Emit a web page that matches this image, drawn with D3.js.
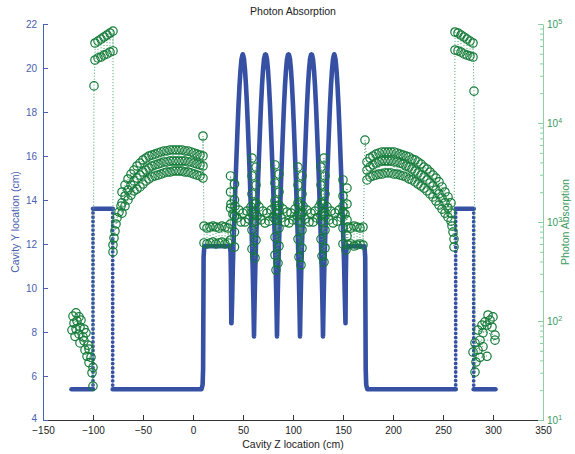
<!DOCTYPE html>
<html>
<head>
<meta charset="utf-8">
<script src="https://cdnjs.cloudflare.com/ajax/libs/d3/7.8.5/d3.min.js"></script>
<style>
  body { margin: 0; background: #fff; }
  text { font-family: "Liberation Sans", Arial, Helvetica, sans-serif; }
</style>
</head>
<body>
<div id="chart"></div>
<script>
// ---- tick labels ----
var zTicks = [-150, -100, -50, 0, 50, 100, 150, 200, 250, 300, 350];
var yTicks = [4, 6, 8, 10, 12, 14, 16, 18, 20, 22];
var absTicks = [10, 100, 1000, 10000, 100000];

// ---- cavity profile (z cm, y cm) ----
var cavityProfile = [
  [-121.5,5.4],[-100,5.4],[-100,13.6],[-80.3,13.6],[-80.3,5.4],[8.5,5.4],[9.6,5.6],[10.1,6.3],[10.6,11.4],[11.3,11.9],
  [37,11.9],[37.6,11.6],[38,10.5],[38.3,8.4],
  [38.5,8.4],[38.8,8.9],[39.2,9.6],[39.8,10.9],[40.5,12.0],[41.5,13.4],[42.5,14.8],[43.5,16.0],[44.5,17.2],[45.5,18.3],[46.5,19.2],[47.5,19.9],[48.5,20.4],[49.5,20.6],[49.75,20.62],
  [50,20.6],[51,20.4],[52,19.9],[53,19.2],[54,18.3],[55,17.2],[56,16.0],[57,14.8],[58,13.4],[59,12.0],[59.7,10.9],[60.3,9.6],[60.7,8.6],[61,7.8],
  [61.3,8.6],[61.7,9.6],[62.3,10.9],[63,12.0],[64,13.4],[65,14.8],[66,16.0],[67,17.2],[68,18.3],[69,19.2],[70,19.9],[71,20.4],[72,20.6],[72.5,20.62],
  [73,20.6],[74,20.4],[75,19.9],[76,19.2],[77,18.3],[78,17.2],[79,16.0],[80,14.8],[81,13.4],[82,12.0],[82.7,10.9],[83.3,9.6],[83.7,8.6],[84,7.8],
  [84.3,8.6],[84.7,9.6],[85.3,10.9],[86,12.0],[87,13.4],[88,14.8],[89,16.0],[90,17.2],[91,18.3],[92,19.2],[93,19.9],[94,20.4],[95,20.6],[95.5,20.62],
  [96,20.6],[97,20.4],[98,19.9],[99,19.2],[100,18.3],[101,17.2],[102,16.0],[103,14.8],[104,13.4],[105,12.0],[105.7,10.9],[106.3,9.6],[106.7,8.6],[107,7.8],
  [107.3,8.6],[107.7,9.6],[108.3,10.9],[109,12.0],[110,13.4],[111,14.8],[112,16.0],[113,17.2],[114,18.3],[115,19.2],[116,19.9],[117,20.4],[118,20.6],[118.5,20.62],
  [119,20.6],[120,20.4],[121,19.9],[122,19.2],[123,18.3],[124,17.2],[125,16.0],[126,14.8],[127,13.4],[128,12.0],[128.7,10.9],[129.3,9.6],[129.7,8.6],[130,7.8],
  [130.3,8.6],[130.7,9.6],[131.3,10.9],[132,12.0],[133,13.4],[134,14.8],[135,16.0],[136,17.2],[137,18.3],[138,19.2],[139,19.9],[140,20.4],[141,20.6],[141.25,20.62],
  [141.5,20.6],[142.5,20.4],[143.5,19.9],[144.5,19.2],[145.5,18.3],[146.5,17.2],[147.5,16.0],[148.5,14.8],[149.5,13.4],[150.5,12.0],[151.2,10.9],[151.8,9.6],[152.2,8.9],[152.5,8.4],
  [152.8,10.5],[153.2,11.6],[153.8,11.9],[171.5,11.9],[172.2,11.4],[172.7,6.3],[173.2,5.6],[174.3,5.4],
  [262.7,5.4],[262.7,13.6],[280.7,13.6],[280.7,5.4],[302.5,5.4]
];

// ---- photon absorption (z cm, counts) ----
var lowLeftZ   = [-120,-117,-114,-119,-116,-112,-121,-117,-113,-109,-118,-114,-110,-107,-113,-109,-105,-108,-104,-106,-102,-104,-100,-101,-100];
var lowLeftAbs = [112,121,110,95,100,102,81,83,87,83,70,74,69,76,60,63,57,51,52,44,43,38,34,30,22];

var spikeZ   = [-99, 10, 172, 281];
var spikeAbs = [23700, 7390, 6730, 21000];

var topLeftZ     = [-98,-95,-92,-89,-86,-83,-80];
var topLeftUpper = [64300,67300,70500,73900,77400,81100,84900];
var topLeftLower = [43300,45400,46400,48600,49800,52100,53400];

var leftTrailZ   = [-80,-80,-79,-78,-77,-76,-74,-72];
var leftTrailAbs = [498,586,689,811,955,1100,1260,1450];

var leftArcZ   = [-71,-68,-65,-62,-59,-56,-53,-50,-47,-44,-41,-38,-35,-32,-29,-26,-23,-20,-17,-14,-11,-8,-5,-2,1,4,7,10];
var leftArcTop = [2010,2360,2720,3050,3350,3680,3940,4230,4430,4640,4750,4860,4980,5100,5220,5220,5340,5340,5340,5340,5340,5220,5220,5100,4980,4860,4750,4640];
var leftArcMid = [1560,1830,2100,2360,2600,2780,2980,3200,3350,3510,3680,3770,3850,3940,4040,4040,4130,4130,4130,4130,4130,4130,4040,4040,3940,3850,3770,3680];
var leftArcLow = [1230,1450,1670,1870,2060,2150,2260,2420,2600,2720,2850,2920,2980,3050,3130,3200,3200,3270,3270,3270,3270,3200,3200,3130,3050,2980,2920,2780];

var flatLeftZ     = [11,14,17,20,23,26,29,32,35];
var flatLeftUpper = [911,870,890,911,890,870,911,890,870];
var flatLeftLower = [614,600,614,628,600,614,628,600,614];

var cellTopZ   = [38,42,46,50,54,58,62,66,70,74,78,82,86,90,94,98,102,106,110,114,118,122,126,130,134,138,142,146,150];
var cellTopAbs = [1520,1450,1320,1230,1290,1420,1520,1420,1290,1230,1320,1450,1485,1350,1260,1230,1350,1485,1450,1320,1230,1290,1420,1520,1420,1290,1230,1320,1450];
var cellLowZ   = [40,44,48,52,56,60,64,68,72,76,80,84,88,92,96,100,104,108,112,116,120,124,128,132,136,140,144,148,152];
var cellLowAbs = [1205,1100,1000,1000,1070,1180,1150,1050,977,1020,1120,1205,1100,1000,977,1050,1150,1180,1070,1000,1000,1100,1180,1150,1050,977,1020,1120,1205];

var irisStackZ = [
  37.5,41.5,37.5,41.5,37.5,41.5,37.5,41.5,37.5,41.5,
  59,63,59,63,59,63,59,63,59,63,59,62,
  82,86,82,86,82,86,82,86,82,86,82,85,83,
  105,109,105,109,105,109,105,109,105,109,106,108,
  131,128,132,128,132,128,132,128,132,128,132,129,131,
  150,154,150,154,150,154,150,154,150,153
];
var irisStackAbs = [
  2920,2420,2010,1670,1385,1150,955,792,658,559,
  4430,3590,2920,2360,1920,1560,1260,1020,830,658,534,433,
  3770,3050,2480,2010,1630,1320,1070,870,705,572,464,385,327,
  3590,2920,2360,1920,1560,1260,1020,830,673,546,443,368,
  4430,3590,2920,2360,1920,1560,1260,1020,830,673,546,453,394,
  2660,2200,1830,1520,1260,1050,870,722,600,522
];

var flatRightZ     = [155,158,161,164,167,170];
var flatRightUpper = [890,870,911,890,870,890];
var flatRightLower = [586,600,572,586,600,586];

var rightArcZ   = [174,177,180,183,186,189,192,195,198,201,204,207,210,213,216,219,222,225,228,231,234,237,240,243,246,249,252,255,258];
var rightArcTop = [4040,4430,4640,4860,4980,5100,5100,5100,5100,5100,4980,4860,4750,4640,4540,4330,4230,4040,3850,3590,3430,3200,2980,2780,2540,2260,2010,1790,1560];
var rightArcMid = [3350,3590,3770,3940,4040,4130,4130,4130,4130,4040,4040,3940,3850,3680,3590,3430,3270,3130,2980,2850,2660,2480,2310,2100,1920,1750,1560,1385,1230];
var rightArcLow = [2660,2850,2920,2980,3050,3050,3130,3130,3130,3050,3050,2980,2920,2850,2720,2660,2540,2420,2310,2200,2060,1920,1790,1630,1485,1350,1230,1120,1020];

var rightTrailZ   = [259,260,261,261];
var rightTrailAbs = [911,792,673,559];

var topRightZ     = [262,265,268,271,274,277,280];
var topRightUpper = [83000,81100,77400,73900,70500,67300,64300];
var topRightLower = [54600,53400,52100,49800,48600,47500,46400];

var lowRightZ   = [282,283,280,287,294,285,282,290,287,302,302,285,290,299,289,294,292,297,300,295];
var lowRightAbs = [30.5,38.5,48.6,43,44,51,60,55,64,64,72,81,76,87,91,91,98,102,110,115];

// ---- layout ----
var blue = "#3651a3", blueAxis = "#4a60b0";
var green = "#137a38", greenAxis = "#8ccfa4", greenText = "#3a9a5e";

var margin = {top: 24, right: 32, bottom: 34, left: 43};
var width = 575 - margin.left - margin.right;
var height = 454 - margin.top - margin.bottom;

var svg = d3.select("#chart").append("svg")
    .attr("width", 575)
    .attr("height", 454);

var g = svg.append("g")
    .attr("transform", "translate(" + margin.left + "," + margin.top + ")");

var x = d3.scaleLinear().domain([-150, 350]).range([0, width]);
var y = d3.scaleLinear().domain([4, 22]).range([height, 0]);
var y2 = d3.scaleLog().domain([10, 100000]).range([height, 0]);

// ---- axes ----
var xAxis = g.append("g")
    .attr("transform", "translate(0," + height + ")")
    .attr("color", "#333")
    .call(d3.axisBottom(x).tickValues(zTicks).tickSizeInner(-5).tickSizeOuter(0).tickPadding(7));

var yAxis = g.append("g")
    .attr("color", blueAxis)
    .call(d3.axisLeft(y).tickValues(yTicks).tickSizeInner(-5).tickSizeOuter(0).tickPadding(6));

// lift the bottom "4" a little so it clears "-150"
yAxis.selectAll(".tick text").attr("dy", function (d) { return d === 4 ? "0.1em" : "0.32em"; });

var minorTicks = y2.ticks().filter(function (d) { return absTicks.indexOf(d) < 0; });
g.append("g")
    .attr("transform", "translate(" + width + ",0)")
    .attr("color", greenAxis)
    .call(d3.axisRight(y2).tickValues(minorTicks).tickSizeInner(-3).tickSizeOuter(0).tickFormat(""))
    .select(".domain").remove();

var yAxis2 = g.append("g")
    .attr("transform", "translate(" + width + ",0)")
    .attr("color", greenAxis)
    .call(d3.axisRight(y2).tickValues(absTicks).tickSizeInner(-5).tickSizeOuter(0).tickFormat(""));

yAxis2.selectAll(".tick").each(function (d) {
    var t = d3.select(this).append("text")
        .attr("x", 4)
        .attr("dy", "0.36em")
        .attr("fill", greenText)
        .attr("text-anchor", "start");
    t.append("tspan").text("10");
    t.append("tspan").attr("dy", "-0.55em").attr("font-size", "7px").text(Math.round(Math.log10(d)));
});

svg.selectAll(".tick text")
    .style("font-family", '"Liberation Sans", Arial, sans-serif')
    .style("font-size", "10px");
xAxis.selectAll(".tick text").attr("fill", "#222");

// ---- cavity profile (blue) ----
var line = d3.line()
    .x(function (d) { return x(d[0]); })
    .y(function (d) { return y(d[1]); });

// tall exactly-vertical steps show as separate dots, everything else is dense
var runs = [], walls = [], run = [cavityProfile[0]];
for (var i = 1; i < cavityProfile.length; i++) {
    var a = cavityProfile[i - 1], b = cavityProfile[i];
    if (a[0] === b[0] && Math.abs(b[1] - a[1]) > 2) {
        if (run.length > 1) runs.push(run);
        walls.push([a, b]);
        run = [b];
    } else {
        run.push(b);
    }
}
if (run.length > 1) runs.push(run);

g.selectAll(".profile")
    .data(runs)
    .enter().append("path")
    .attr("class", "profile")
    .attr("d", line)
    .attr("fill", "none")
    .attr("stroke", blue)
    .attr("stroke-width", 4.6)
    .attr("stroke-linejoin", "round")
    .attr("stroke-linecap", "round");

g.selectAll(".wall")
    .data(walls)
    .enter().append("path")
    .attr("class", "wall")
    .attr("d", line)
    .attr("fill", "none")
    .attr("stroke", blue)
    .attr("stroke-width", 3.8)
    .attr("stroke-linecap", "round")
    .attr("stroke-dasharray", "0 4.3");

// ---- photon absorption (green), in plotting order ----
var seq = [];
function add(z, v) { seq.push([z, v]); }
function addAll(zs, vs) { zs.forEach(function (z, i) { add(z, vs[i]); }); }
function zigzag(zs, bands) {
    zs.forEach(function (z, i) {
        var order = i % 2 === 0 ? bands : bands.slice().reverse();
        order.forEach(function (band) { add(z, band[i]); });
    });
}

addAll(lowLeftZ, lowLeftAbs);
add(spikeZ[0], spikeAbs[0]);
zigzag(topLeftZ, [topLeftLower, topLeftUpper]);
addAll(leftTrailZ, leftTrailAbs);
zigzag(leftArcZ, [leftArcLow, leftArcMid, leftArcTop]);
add(spikeZ[1], spikeAbs[1]);
zigzag(flatLeftZ, [flatLeftUpper, flatLeftLower]);

var centre = [];
cellTopZ.forEach(function (z, i) { centre.push([z, cellTopAbs[i]]); });
cellLowZ.forEach(function (z, i) { centre.push([z, cellLowAbs[i]]); });
irisStackZ.forEach(function (z, i) { centre.push([z, irisStackAbs[i]]); });
centre.sort(function (p, q) { return p[0] - q[0]; });
centre.forEach(function (p) { add(p[0], p[1]); });

zigzag(flatRightZ, [flatRightLower, flatRightUpper]);
add(spikeZ[2], spikeAbs[2]);
zigzag(rightArcZ, [rightArcTop, rightArcMid, rightArcLow]);
addAll(rightTrailZ, rightTrailAbs);
zigzag(topRightZ, [topRightLower, topRightUpper]);
add(spikeZ[3], spikeAbs[3]);
addAll(lowRightZ, lowRightAbs);

var absLine = d3.line()
    .x(function (d) { return x(d[0]); })
    .y(function (d) { return y2(d[1]); });

g.append("path")
    .datum(seq)
    .attr("d", absLine)
    .attr("fill", "none")
    .attr("stroke", "#3f9f66")
    .attr("stroke-width", 1)
    .attr("stroke-dasharray", "1 2");

g.selectAll(".abs")
    .data(seq)
    .enter().append("circle")
    .attr("class", "abs")
    .attr("cx", function (d) { return x(d[0]); })
    .attr("cy", function (d) { return y2(d[1]); })
    .attr("r", 4.2)
    .attr("fill", "none")
    .attr("stroke", green)
    .attr("stroke-width", 1.2);

// ---- titles ----
svg.append("text")
    .attr("x", margin.left + width / 2)
    .attr("y", 15)
    .attr("text-anchor", "middle")
    .attr("font-size", "10.5px")
    .attr("fill", "#222")
    .text("Photon Absorption");

svg.append("text")
    .attr("x", margin.left + width / 2)
    .attr("y", 448)
    .attr("text-anchor", "middle")
    .attr("font-size", "10.5px")
    .attr("fill", "#222")
    .text("Cavity Z location (cm)");

svg.append("text")
    .attr("transform", "translate(19," + (margin.top + height / 2) + ") rotate(-90)")
    .attr("text-anchor", "middle")
    .attr("font-size", "10.5px")
    .attr("fill", blueAxis)
    .text("Cavity Y location (cm)");

svg.append("text")
    .attr("transform", "translate(569," + (margin.top + height / 2) + ") rotate(-90)")
    .attr("text-anchor", "middle")
    .attr("font-size", "10.5px")
    .attr("fill", greenText)
    .text("Photon Absorption");
</script>
</body>
</html>
